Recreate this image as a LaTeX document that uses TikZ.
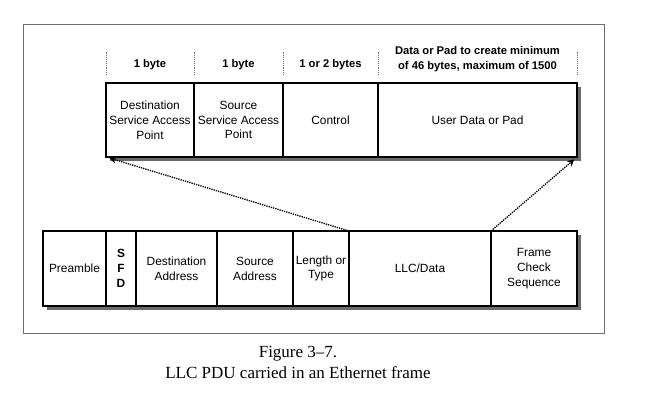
\documentclass[tikz,border=0pt]{standalone}
\usepackage{xcolor}
\usepackage{fontspec}
\setmainfont{Liberation Serif}
\newfontfamily\figfont{Liberation Sans}
\usetikzlibrary{positioning, arrows.meta, calc, shadows}
\definecolor{framegray}{HTML}{6E6E6E}
\definecolor{shadowgray}{HTML}{5A5A5A}

\tikzset{
  field/.style={draw, line width=1.2pt, fill=white, align=center,
    inner sep=1pt, outer sep=0pt, minimum height=74pt,
    font=\figfont\fontsize{11.9}{14.8}\selectfont,
    drop shadow={shadow xshift=3.5pt, shadow yshift=-3.5pt,
                 fill=shadowgray, opacity=.9}},
  bytes/.style={font=\figfont\bfseries\fontsize{11.2}{14.5}\selectfont, align=center},
  ruler/.style={densely dotted, line width=0.9pt, framegray},
  maps/.style={densely dotted, line width=1.3pt,
    -{Stealth[length=7pt, width=7pt]}, shorten >=3.5pt}
}

\begin{document}
\begin{tikzpicture}[x=1pt, y=-1pt]
  \useasboundingbox (0,0) rectangle (646,405);
  \draw[framegray, line width=1pt] (23,24) rectangle (604,333);

  % LLC PDU
  \node[field, minimum width=88pt, anchor=north west] (dsap) at (106,83)
    {Destination\\Service Access\\Point};
  \node[field, minimum width=89pt, right=0pt of dsap] (ssap)
    {Source\\Service Access\\Point};
  \node[field, minimum width=95pt, right=0pt of ssap] (ctrl) {Control};
  \node[field, minimum width=199pt, right=0pt of ctrl] (udata) {User Data or Pad};

  \node[bytes] (b1) at ($(dsap.north)+(0,-18)$) {1 byte};
  \node[bytes] (b2) at ($(ssap.north)+(0,-18)$) {1 byte};
  \node[bytes] (b3) at ($(ctrl.north)+(0,-18)$) {1 or 2 bytes};
  \node[bytes] (b4) at ($(udata.north)+(0,-24)$)
    {Data or Pad to create minimum\\of 46 bytes, maximum of 1500};
  \foreach \f in {dsap.north west, ssap.north west, ctrl.north west,
                  udata.north west, udata.north east}
    \draw[ruler] ($(\f)+(0,-8)$) -- ++(0,-23);

  % Ethernet frame
  \node[field, minimum width=63pt, minimum height=75pt, anchor=north west]
    (pre) at (43,231) {Preamble};
  \node[field, minimum width=30pt, minimum height=75pt, right=0pt of pre]
    (sfd) {\bfseries S\\\bfseries F\\\bfseries D};
  \node[field, minimum width=81pt, minimum height=75pt, right=0pt of sfd]
    (dst) {Destination\\Address};
  \node[field, minimum width=76pt, minimum height=75pt, right=0pt of dst]
    (src) {Source\\Address};
  \node[field, minimum width=56pt, minimum height=75pt, right=0pt of src]
    (len) {Length or\\Type};
  \node[field, minimum width=142pt, minimum height=75pt, right=0pt of len]
    (llc) {LLC/Data};
  \node[field, minimum width=86pt, minimum height=75pt, right=0pt of llc]
    (fcs) {Frame\\Check\\Sequence};

  \draw[maps] (llc.north west) -- (dsap.south west);
  \draw[maps] (fcs.north west) -- (udata.south east);

  \node[font=\fontsize{17}{21}\selectfont, align=center] (cap) at (298,362)
    {Figure 3–7.\\LLC PDU carried in an Ethernet frame};
\end{tikzpicture}
\end{document}
